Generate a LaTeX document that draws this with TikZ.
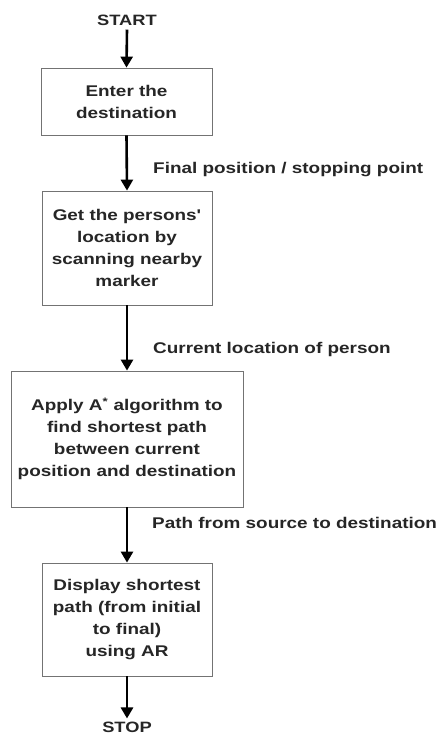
\documentclass[tikz,border=0pt]{standalone}
\usepackage{fontspec}
\setmainfont{Liberation Sans}
\newfontfamily\widefont[FakeStretch=1.22]{Liberation Sans}
\usetikzlibrary{arrows.meta,shadows}
\begin{document}
\begin{tikzpicture}[x=1pt,y=-1pt,
  box/.style={draw=black!55, line width=0.8pt, fill=white, align=center, inner sep=0pt,
    font=\widefont\fontsize{15.5}{22}\selectfont\bfseries, text=black!85,
    drop shadow={shadow xshift=1.2pt, shadow yshift=-1.2pt, fill=black!30, opacity=0.7}},
  lbl/.style={anchor=west, inner sep=0pt, font=\widefont\fontsize{15.5}{18}\selectfont\bfseries, text=black!85},
  term/.style={inner sep=0pt, font=\widefont\fontsize{15}{18}\selectfont\bfseries, text=black!85},
  arr/.style={line width=2.6pt, -{Triangle[width=12pt,length=11pt]}}]
\useasboundingbox (0,0) rectangle (440,737);
\node[term] (start) at (127,20) {START};
\node[box, minimum width=171pt, minimum height=67pt] (b1) at (126.5,101.5) {Enter the\\destination};
\node[box, minimum width=170pt, minimum height=114pt] (b2) at (127,248) {Get the persons'\\location by\\scanning nearby\\marker};
\node[box, minimum width=232pt, minimum height=136pt] (b3) at (127,439) {Apply A\textsuperscript{*} algorithm to\\find shortest path\\between current\\position and destination};
\node[box, minimum width=170pt, minimum height=113pt] (b4) at (127,619.5) {Display shortest\\path (from initial\\to final)\\using AR};
\node[term] (stop) at (127,727) {STOP};
\draw[arr] ([yshift=-4pt]start.south) -- (b1.north);
\draw[arr] (b1.south) -- (b2.north);
\draw[arr] (b2.south) -- (b3.north);
\draw[arr] (b3.south) -- (b4.north);
\draw[arr] (b4.south) -- ([yshift=3pt]stop.north);
\node[lbl] (l1) at (153,170) {Final position / stopping point};
\node[lbl] (l2) at (153,349) {Current location of person};
\node[lbl] (l3) at (152,523) {Path from source to destination};
\end{tikzpicture}
\end{document}
